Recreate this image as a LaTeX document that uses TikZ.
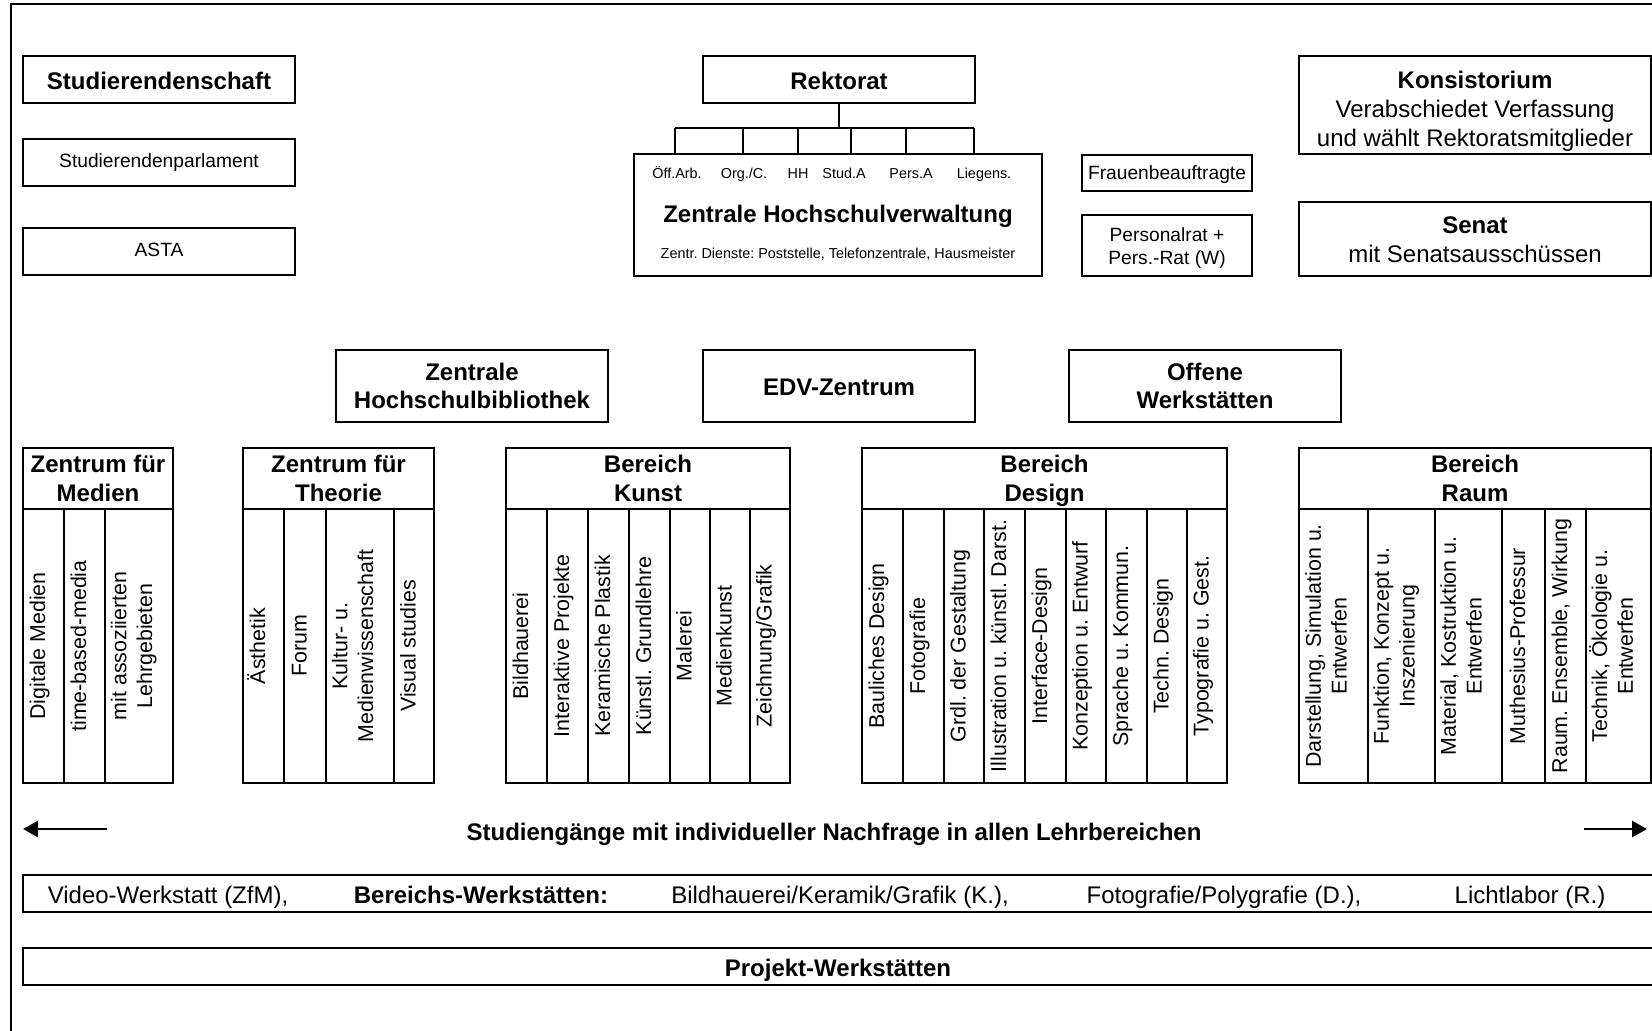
\documentclass[tikz,border=0pt]{standalone}
\usepackage{fontspec}
\setmainfont{Liberation Sans}
\frenchspacing
\usetikzlibrary{fit,arrows.meta}
\tikzset{
 box/.style={draw, line width=1pt, inner sep=0pt},
 bigb/.style={font=\fontsize{12}{14.3}\selectfont\bfseries},
 big/.style={font=\fontsize{12}{14.6}\selectfont},
 mid/.style={font=\fontsize{9.6}{11.5}\selectfont},
 small/.style={font=\fontsize{7.2}{8.6}\selectfont},
 colt/.style={font=\fontsize{10.7}{12.9}\selectfont},
 conn/.style={line width=1pt},
 arr/.style={line width=1.4pt, -{Triangle[length=7.5pt,width=8pt]}},
 txt/.style={inner sep=0pt, align=center, execute at begin node=\strut, execute at end node=\strut},
}
\newcommand\bx[4]{\node[box, fit={#3}] (#1) {}; \node[txt, #2] (#1t) at ([yshift=-2pt]#1.center) {#4};}
\newcommand\mycell[4]{\node[box, fit={(#2,509) (#3,783)}] (#1) {}; \node[txt, colt, rotate=90] (#1t) at ([xshift=-1.8pt]#1.center) {#4};}
\begin{document}
\begin{tikzpicture}[x=0.5pt, y=-0.5pt]
\useasboundingbox (0,0) rectangle (1652,1031);
\clip (0,0) rectangle (1652,1031);
\draw[line width=0.9pt] (11,4) rectangle (1700,1100);

% left column
\bx{stud}{bigb}{(23,56) (295,103)}{Studierendenschaft}
\node[box, fit={(23,139) (295,186)}] (stparl) {};
\node[txt, mid] (stparlt) at (stparl.center) {Studierendenparlament};
\node[box, fit={(23,228) (295,275)}] (asta) {};
\node[txt, mid] (astat) at (asta.center) {ASTA};

% Rektorat and administration
\bx{rek}{bigb}{(703,56) (975,103)}{Rektorat}
\node[box, fit={(634,154) (1042,276)}] (zhv) {};
\node[small, txt] (l1) at (677,175) {Öff.Arb.};
\node[small, txt] (l2) at (744,175) {Org./C.};
\node[small, txt] (l3) at (798,175) {HH};
\node[small, txt] (l4) at (844,175) {Stud.A};
\node[small, txt] (l5) at (911,175) {Pers.A};
\node[small, txt] (l6) at (984,175) {Liegens.};
\node[bigb, txt] (zhvt) at (838,217) {Zentrale Hochschulverwaltung};
\node[small, txt] (zhvd) at (838,255) {Zentr. Dienste: Poststelle, Telefonzentrale, Hausmeister};

\coordinate (bar) at (838.6,128.5);
\foreach \i/\x in {1/675,2/743,3/798,4/851,5/906,6/974} \coordinate (b\i) at (\x,128.5);
\draw[conn] (rek.south) -- (rek.south |- bar);
\draw[conn] (b1) -- (b6);
\foreach \i in {1,...,6} \draw[conn] (b\i) -- (b\i |- zhv.north);

% right group
\node[box, fit={(1082,155) (1252,191)}] (frau) {};
\node[txt, mid] (faut) at ([yshift=-0.8pt]frau.center) {Frauenbeauftragte};
\bx{pers}{mid}{(1082,215) (1252,276)}{Personalrat +\\Pers.-Rat (W)}
\node[box, fit={(1299,56) (1651,154)}] (kons) {};
\node[txt, big] (konst) at ([yshift=-4.2pt]kons.center) {\textbf{Konsistorium}\\Verabschiedet Verfassung\\und wählt Rektoratsmitglieder};
\node[box, fit={(1299,202) (1651,276)}] (senat) {};
\node[txt, big] (senatt) at ([yshift=-2.6pt]senat.center) {\textbf{Senat}\\mit Senatsausschüssen};

% central facilities
\bx{zhb}{bigb}{(336,350) (608,422)}{Zentrale\\Hochschulbibliothek}
\bx{edv}{bigb}{(703,350) (975,422)}{EDV-Zentrum}
\bx{ow}{bigb}{(1069,350) (1341,422)}{Offene\\Werkstätten}

% department headers
\bx{zfmh}{bigb}{(23,448) (173,509)}{Zentrum für\\Medien}
\bx{zfth}{bigb}{(243,448) (434,509)}{Zentrum für\\Theorie}
\bx{kunh}{bigb}{(506,448) (790,509)}{Bereich\\Kunst}
\bx{desh}{bigb}{(862,448) (1227,509)}{Bereich\\Design}
\bx{raumh}{bigb}{(1299,448) (1651,509)}{Bereich\\Raum}

% columns
\mycell{m1}{23}{64}{Digitale Medien}
\mycell{m2}{64}{105}{time-based-media}
\mycell{m3}{105}{173}{mit assoziierten\\Lehrgebieten}

\mycell{t1}{243}{284}{Ästhetik}
\mycell{t2}{284}{326}{Forum}
\mycell{t3}{326}{394}{Kultur- u.\\Medienwissenschaft}
\mycell{t4}{394}{434}{Visual studies}

\mycell{k1}{506}{547}{Bildhauerei}
\mycell{k2}{547}{588}{Interaktive Projekte}
\mycell{k3}{588}{629}{Keramische Plastik}
\mycell{k4}{629}{670}{Künstl. Grundlehre}
\mycell{k5}{670}{710}{Malerei}
\mycell{k6}{710}{750}{Medienkunst}
\mycell{k7}{750}{790}{Zeichnung/Grafik}

\mycell{d1}{862}{903}{Bauliches Design}
\mycell{d2}{903}{944}{Fotografie}
\mycell{d3}{944}{984}{Grdl. der Gestaltung}
\mycell{d4}{984}{1025}{Illustration u. künstl. Darst.}
\mycell{d5}{1025}{1066}{Interface-Design}
\mycell{d6}{1066}{1106}{Konzeption u. Entwurf}
\mycell{d7}{1106}{1147}{Sprache u. Kommun.}
\mycell{d8}{1147}{1187}{Techn. Design}
\mycell{d9}{1187}{1227}{Typografie u. Gest.}

\mycell{r1}{1299}{1368}{Darstellung, Simulation u.\\Entwerfen}
\mycell{r2}{1368}{1435}{Funktion, Konzept u.\\Inszenierung}
\mycell{r3}{1435}{1502}{Material, Kostruktion u.\\Entwerfen}
\mycell{r4}{1502}{1545}{Muthesius-Professur}
\mycell{r5}{1545}{1586}{Raum. Ensemble, Wirkung}
\mycell{r6}{1586}{1651}{Technik, Ökologie u.\\Entwerfen}

% bottom part
\coordinate (aL1) at (107,829); \coordinate (aL2) at (23,829);
\coordinate (aR1) at (1584,829); \coordinate (aR2) at (1647,829);
\draw[arr] (aL1) -- (aL2);
\draw[arr] (aR1) -- (aR2);
\node[bigb, txt] (stg) at (834,835) {Studiengänge mit individueller Nachfrage in allen Lehrbereichen};

\node[box, fit={(23,875) (1653,912)}] (werk) {};
\node[big, txt] (w1) at (168,898) {Video-Werkstatt (ZfM),};
\node[bigb, txt] (w2) at (481,898) {Bereichs-Werkstätten:};
\node[big, txt] (w3) at (840,898) {Bildhauerei/Keramik/Grafik (K.),};
\node[big, txt] (w4) at (1224,898) {Fotografie/Polygrafie (D.),};
\node[big, txt] (w5) at (1530,898) {Lichtlabor (R.)};

\bx{proj}{bigb}{(23,948) (1653,985)}{Projekt-Werkstätten}
\end{tikzpicture}
\end{document}
